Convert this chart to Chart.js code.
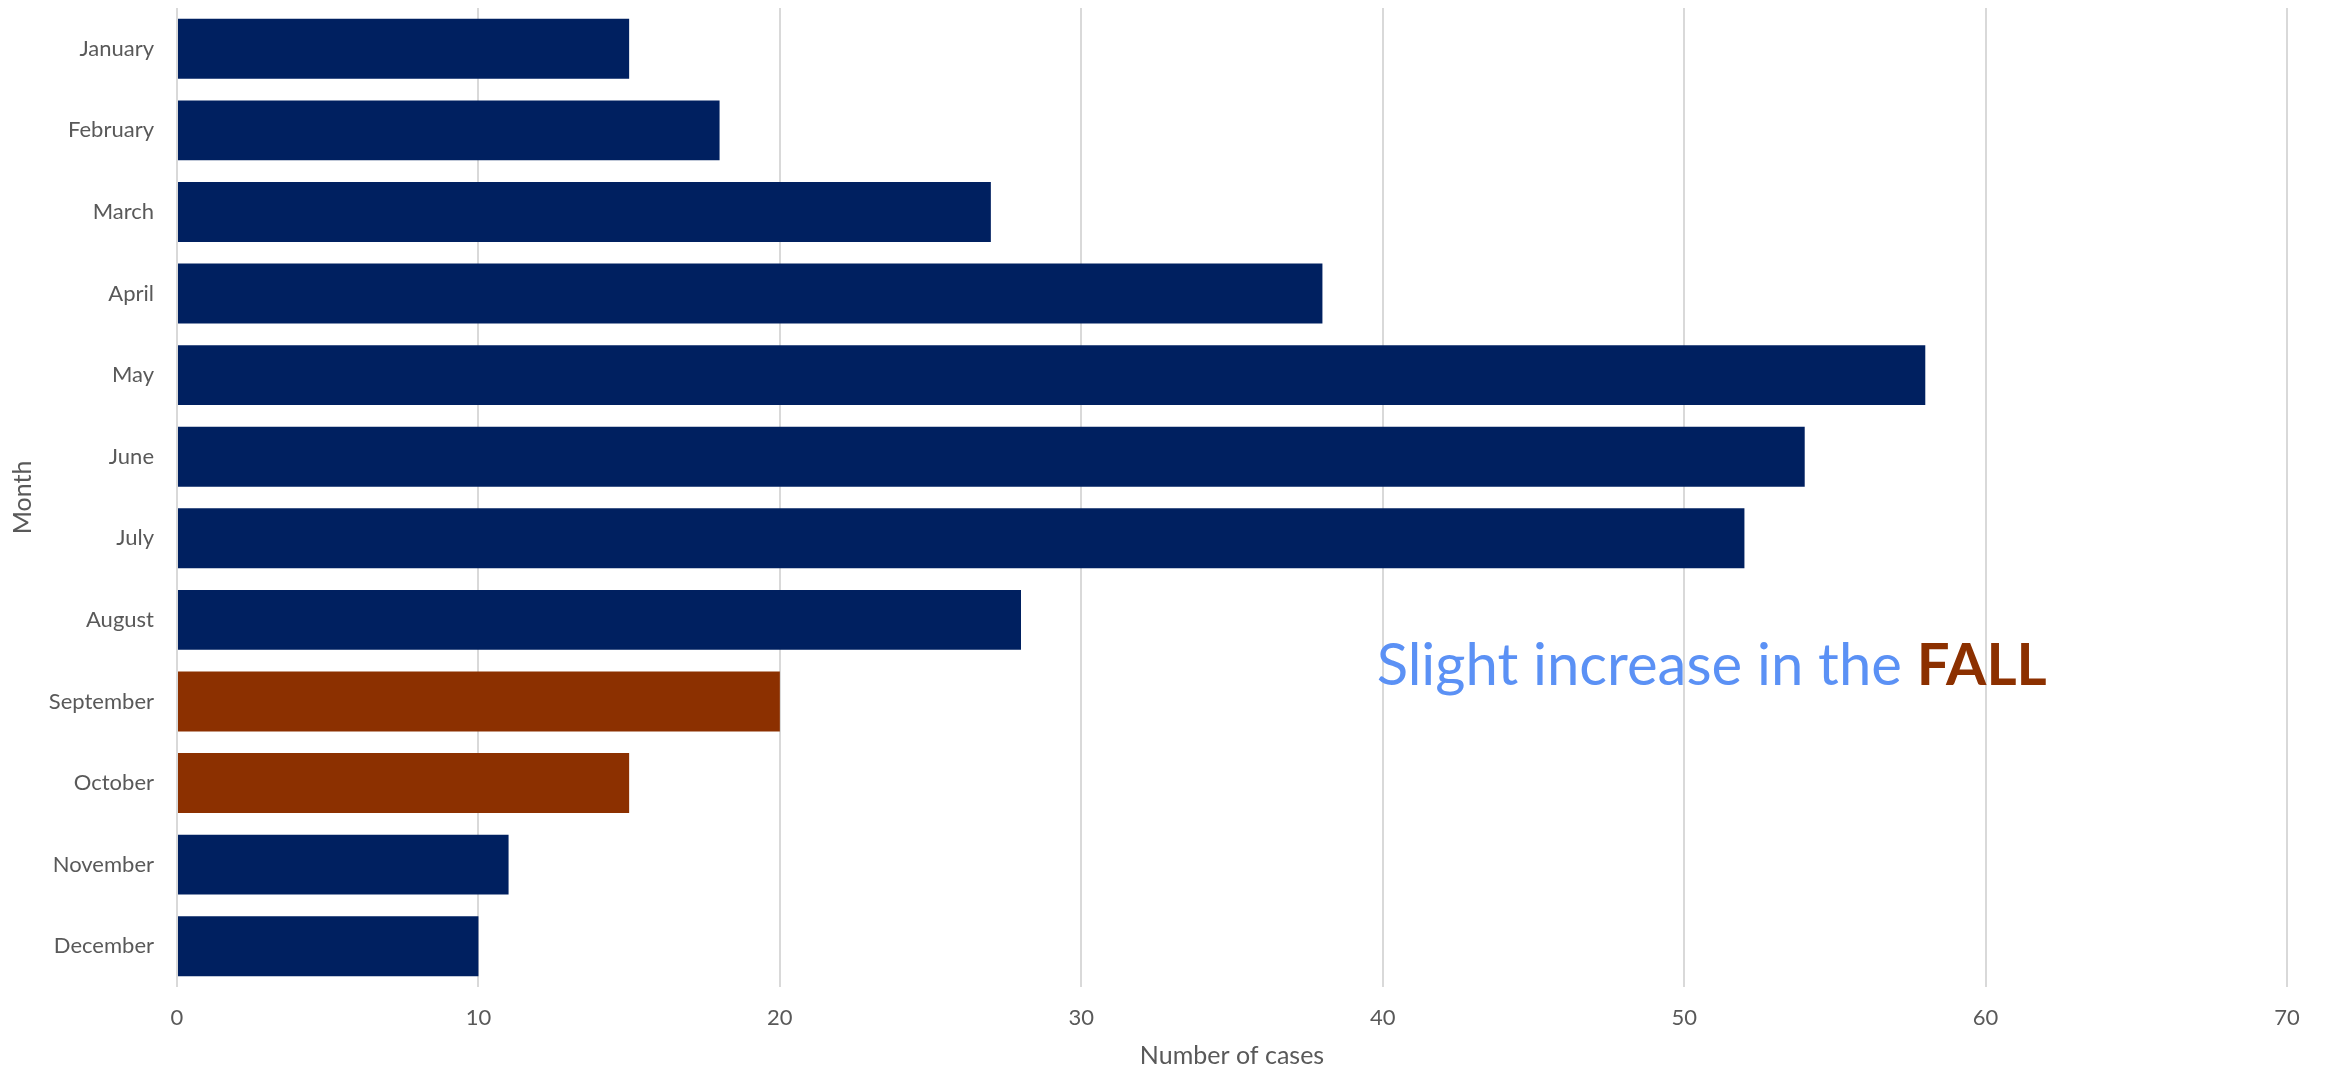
<!DOCTYPE html>
<html>
<head>
<meta charset="utf-8">
<title>Cases by month</title>
<script src="https://cdn.jsdelivr.net/npm/chart.js@4.4.1/dist/chart.umd.min.js"></script>
<style>
  html, body { margin: 0; padding: 0; background: #ffffff; }
  #wrap { width: 2326px; height: 1071px; position: relative; }
</style>
</head>
<body>
<div id="wrap"><canvas id="casesChart"></canvas></div>
<script>
// Monthly case counts
const months = ['January', 'February', 'March', 'April', 'May', 'June',
                'July', 'August', 'September', 'October', 'November', 'December'];
const cases = [15, 18, 27, 38, 58, 54, 52, 28, 20, 15, 11, 10];
const fallMonths = ['September', 'October'];
const xTicks = [0, 10, 20, 30, 40, 50, 60, 70];

const NAVY = '#002060';
const RUST = '#8C3000';
const NOTE_BLUE = '#5B91F5';
const FONT = 'Lato, "Open Sans", sans-serif';

// Text note drawn over the plot, anchored in data units
const notePlugin = {
    id: 'fallNote',
    afterDatasetsDraw(chart) {
        const { ctx, scales } = chart;
        const x = scales.x.getPixelForValue(39.8);
        const y = scales.y.getPixelForValue(7.8);
        ctx.save();
        ctx.textBaseline = 'alphabetic';
        ctx.textAlign = 'left';
        const first = 'Slight increase in the ';
        ctx.font = '58px ' + FONT;
        ctx.fillStyle = NOTE_BLUE;
        ctx.fillText(first, x, y);
        const w = ctx.measureText(first).width;
        ctx.font = 'bold 58px ' + FONT;
        ctx.fillStyle = RUST;
        ctx.fillText('FALL', x + w, y);
        ctx.restore();
    }
};

const ctx = document.getElementById('casesChart');
new Chart(ctx.getContext('2d'), {
    type: 'bar',
    data: {
        labels: months,
        datasets: [{
            label: 'Number of cases',
            data: cases,
            backgroundColor: months.map(m => fallMonths.includes(m) ? RUST : NAVY),
            borderWidth: 0,
            barPercentage: 0.735,
            categoryPercentage: 1
        }]
    },
    options: {
        indexAxis: 'y',
        responsive: true,
        maintainAspectRatio: false,
        animation: false,
        layout: {
            padding: { top: 8, right: 39, bottom: 0, left: 0 }
        },
        plugins: {
            legend: { display: false },
            tooltip: { enabled: false }
        },
        scales: {
            x: {
                min: 0,
                max: 70,
                afterBuildTicks: function(scale) {
                    scale.ticks = xTicks.map(v => ({ value: v }));
                },
                afterFit: function(scale) {
                    scale.height = 84;
                    scale.paddingLeft = 0;
                    scale.paddingRight = 0;
                },
                grid: {
                    color: '#D9D9D9',
                    lineWidth: 2,
                    drawTicks: false
                },
                border: { display: false },
                ticks: {
                    padding: 18,
                    color: '#595959',
                    font: { family: FONT, size: 22 }
                },
                title: {
                    display: true,
                    text: 'Number of cases',
                    color: '#595959',
                    padding: { top: 0, bottom: 0 },
                    font: { family: FONT, size: 25 }
                }
            },
            y: {
                afterFit: function(scale) {
                    scale.width = 177;
                    scale.paddingTop = 0;
                    scale.paddingBottom = 0;
                },
                grid: { display: false, drawTicks: false },
                border: { display: false },
                ticks: {
                    padding: 23,
                    color: '#595959',
                    font: { family: FONT, size: 22 }
                },
                title: {
                    display: true,
                    text: 'Month',
                    color: '#595959',
                    padding: { top: 8, bottom: 0 },
                    font: { family: FONT, size: 25 }
                }
            }
        }
    },
    plugins: [notePlugin]
});
</script>
</body>
</html>
